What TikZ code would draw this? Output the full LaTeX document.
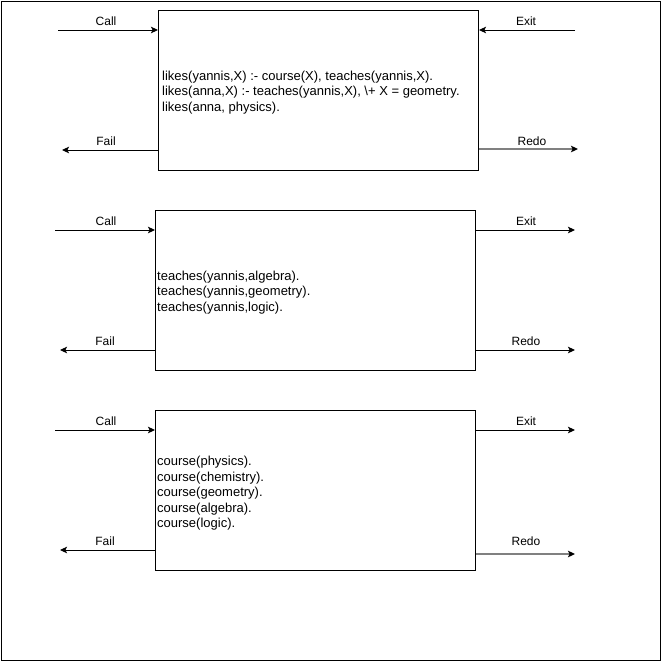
\documentclass[tikz,border=0pt]{standalone}
\usepackage{fontspec}
\setmainfont{Liberation Sans}
\usetikzlibrary{arrows.meta}
\begin{document}
\begin{tikzpicture}[x=1pt,y=-1pt,
 box/.style={draw, line width=1pt, minimum width=320pt, minimum height=160pt, inner sep=0pt, anchor=north west},
 code/.style={anchor=west, align=left, inner sep=0pt, yshift=-2pt, font=\fontsize{13}{15.5}\selectfont},
 lbl/.style={anchor=base, inner sep=0pt, font=\fontsize{12}{14}\selectfont},
 flow/.style={line width=1pt, -{Stealth[length=7pt,width=6.5pt,inset=1.5pt]}},
 redo/.style={line width=1.6pt, draw=gray, -{Stealth[length=7pt,width=6.5pt,inset=1.5pt,black]}}]
\useasboundingbox (0,0) rectangle (661,662);
\node[draw, line width=1pt, minimum width=659pt, minimum height=659pt, anchor=north west, inner sep=0pt] (frame) at (0.5,0.5) {};

% box 1
\node[box] (b1) at (158,10) {};
\node[code] (t1) at ([xshift=4pt]b1.west) {likes(yannis,X) :- course(X), teaches(yannis,X).\\likes(anna,X) :- teaches(yannis,X), {\textbackslash}+ X = geometry.\\likes(anna, physics).};
\coordinate (c1) at (58,30);
\coordinate (f1) at (62,150);
\coordinate (e1) at (575,30);
\coordinate (r1) at (578,149);
\draw[flow] (c1) -- (b1.west |- c1);
\draw[flow] (b1.west |- f1) -- (f1);
\draw[flow] (e1) -- (b1.east |- e1);
\draw[redo] (b1.east |- r1) -- (r1);
\node[lbl] (lc1) at (106,25) {Call};
\node[lbl] (lf1) at (106,145) {Fail};
\node[lbl] (le1) at (526,25) {Exit};
\node[lbl] (lr1) at (532,145) {Redo};

% box 2
\node[box] (b2) at (155,210) {};
\node[code] (t2) at ([xshift=2pt]b2.west) {teaches(yannis,algebra).\\teaches(yannis,geometry).\\teaches(yannis,logic).};
\coordinate (c2) at (55,230);
\coordinate (f2) at (60,350);
\coordinate (e2) at (575,230);
\coordinate (r2) at (575,350);
\draw[flow] (c2) -- (b2.west |- c2);
\draw[flow] (b2.west |- f2) -- (f2);
\draw[flow] (b2.east |- e2) -- (e2);
\draw[flow] (b2.east |- r2) -- (r2);
\node[lbl] (lc2) at (106,225) {Call};
\node[lbl] (lf2) at (105,345) {Fail};
\node[lbl] (le2) at (526,225) {Exit};
\node[lbl] (lr2) at (526,345) {Redo};

% box 3
\node[box] (b3) at (155,410) {};
\node[code] (t3) at ([xshift=2pt,yshift=-1pt]b3.west) {course(physics).\\course(chemistry).\\course(geometry).\\course(algebra).\\course(logic).};
\coordinate (c3) at (55,430);
\coordinate (f3) at (60,550);
\coordinate (e3) at (575,430);
\coordinate (r3) at (575,554);
\draw[flow] (c3) -- (b3.west |- c3);
\draw[flow] (b3.west |- f3) -- (f3);
\draw[flow] (b3.east |- e3) -- (e3);
\draw[redo] (b3.east |- r3) -- (r3);
\node[lbl] (lc3) at (106,425) {Call};
\node[lbl] (lf3) at (105,545) {Fail};
\node[lbl] (le3) at (526,425) {Exit};
\node[lbl] (lr3) at (526,545) {Redo};
\end{tikzpicture}
\end{document}
